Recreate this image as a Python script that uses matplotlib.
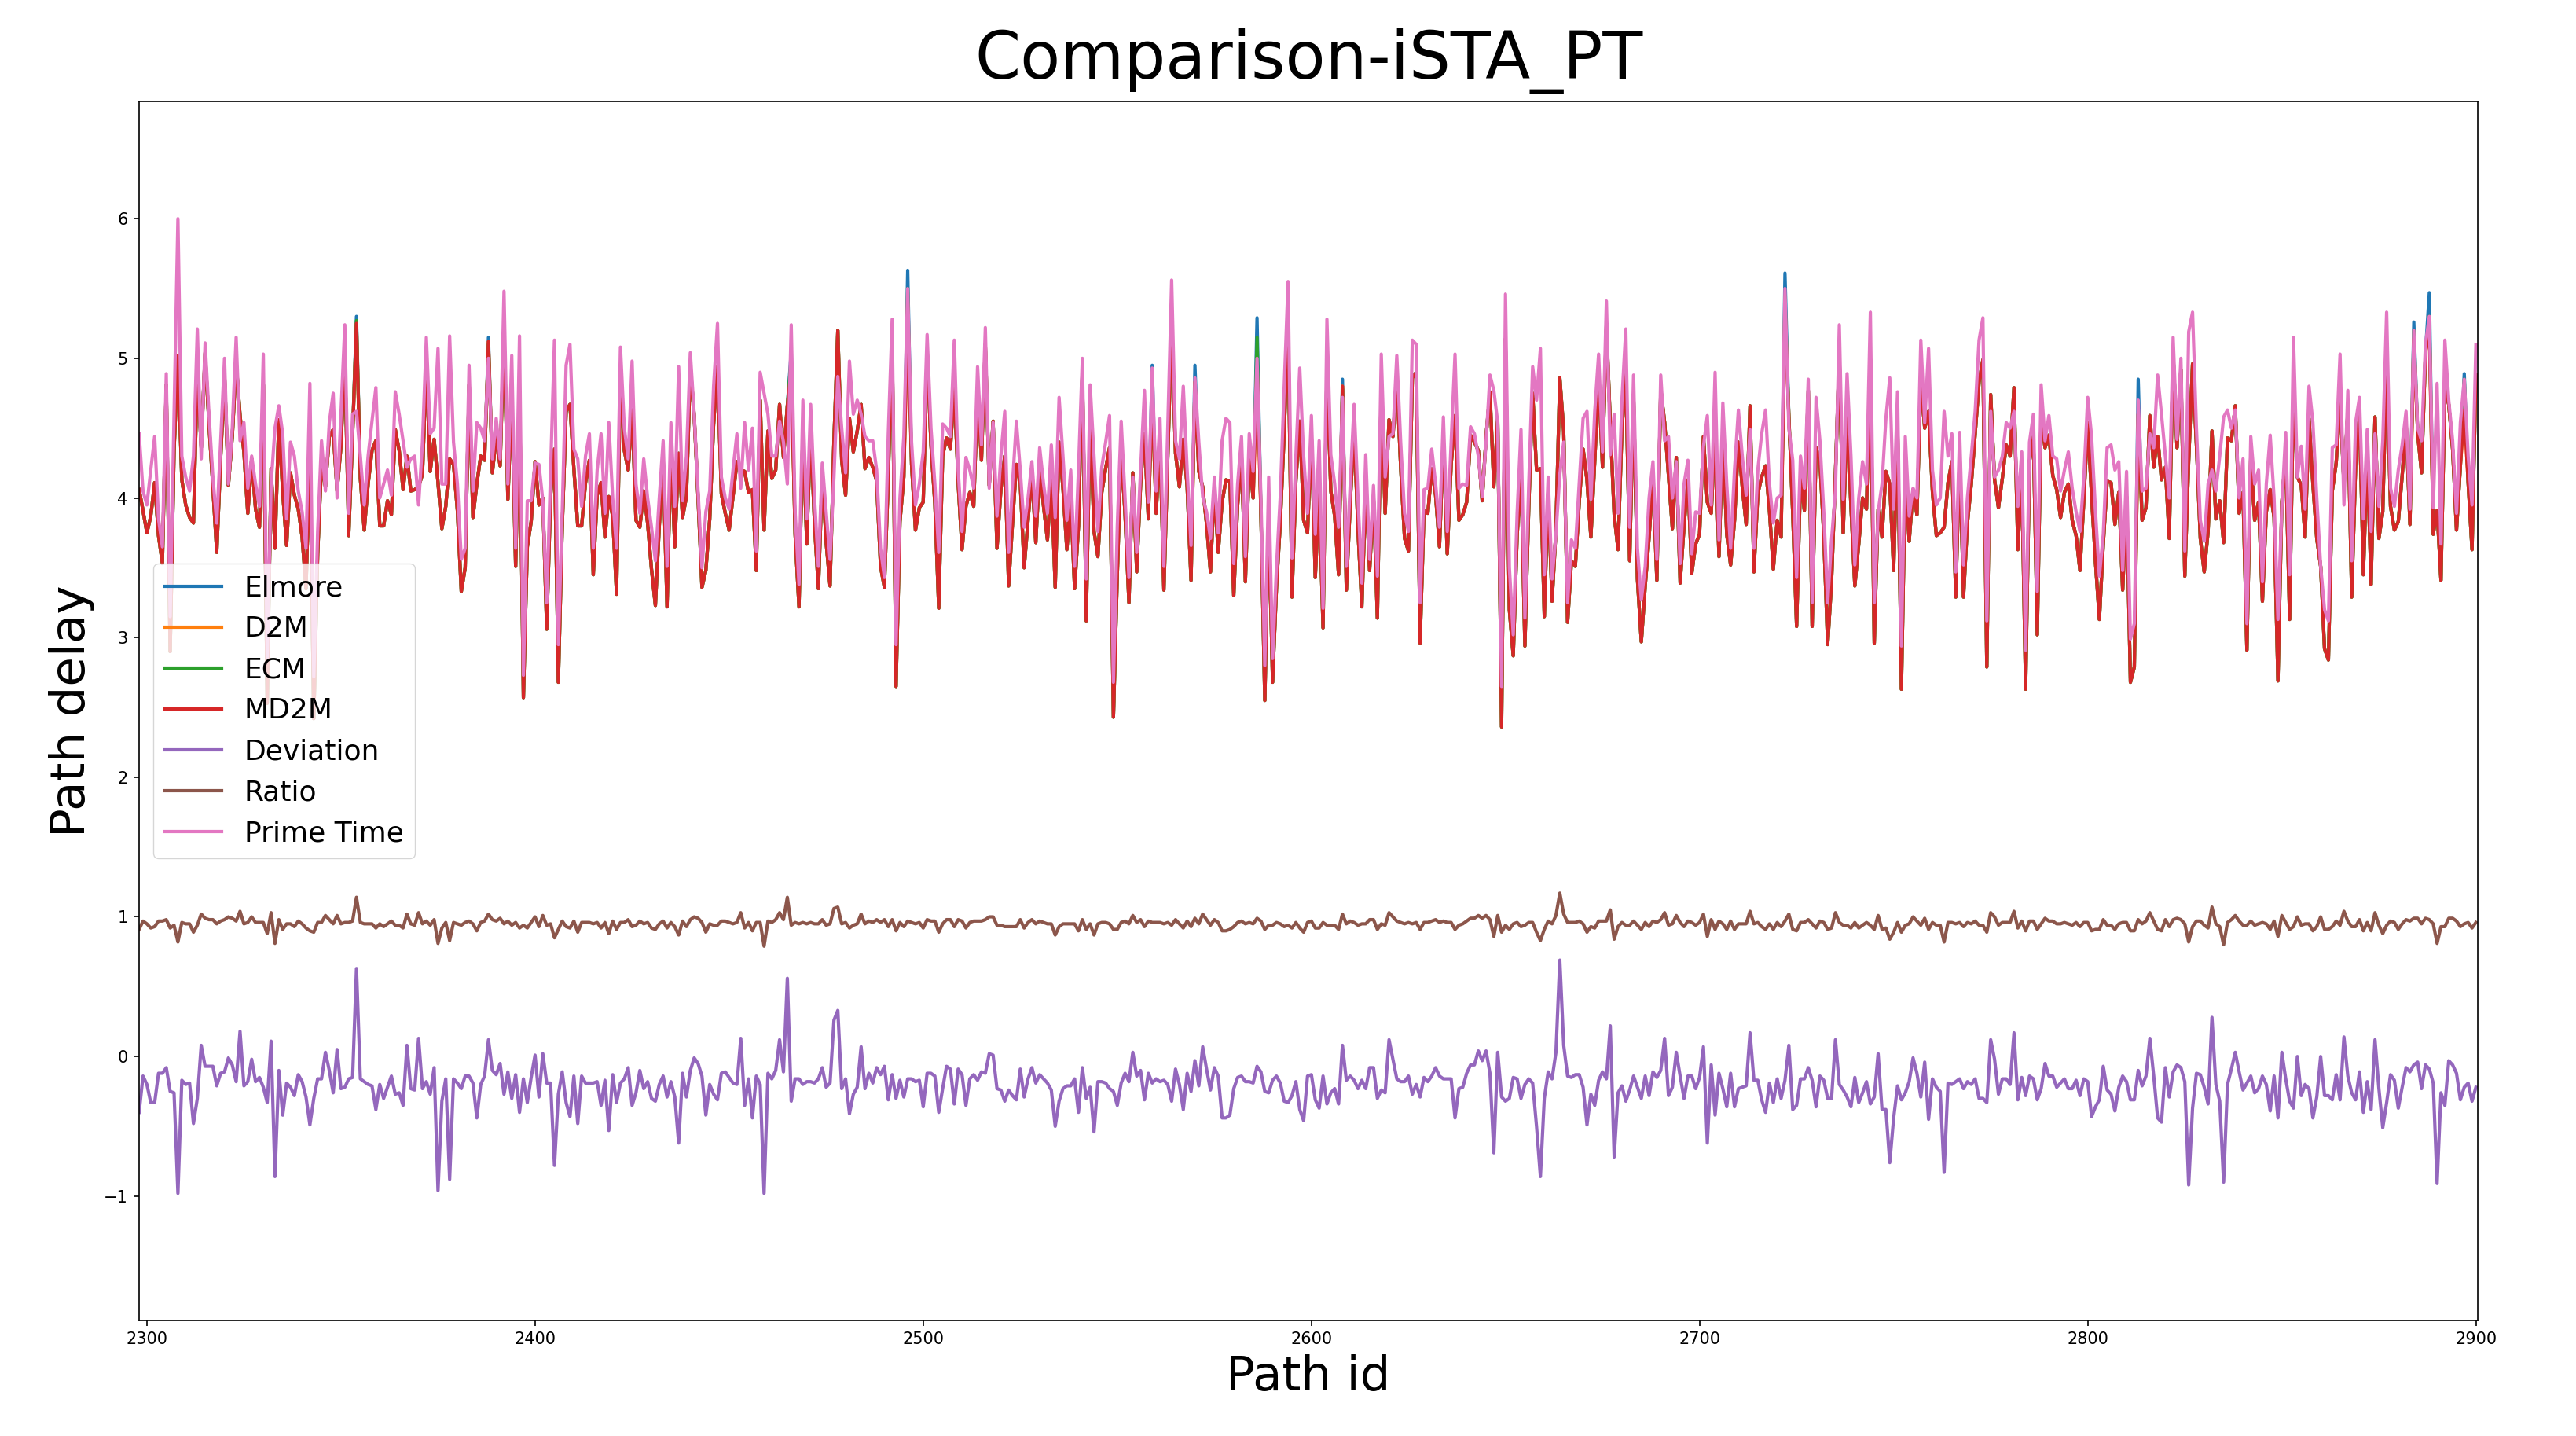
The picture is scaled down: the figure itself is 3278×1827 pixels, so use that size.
import numpy as np
import matplotlib
matplotlib.use("Agg")
import matplotlib.pyplot as plt

FIRST_ID = 2298

prime_time = [
    4.46, 4.05, 3.95, 4.20, 4.44, 3.85, 3.65, 4.89, 3.15, 4.60,
    6.00, 4.30, 4.15, 4.05, 4.30, 5.21, 4.28, 5.11, 4.60, 4.15,
    3.82, 4.40, 5.00, 4.10, 4.50, 5.15, 4.41, 4.54, 4.07, 4.30,
    4.10, 3.94, 5.03, 2.86, 4.10, 4.50, 4.66, 4.46, 3.85, 4.40,
    4.30, 4.05, 3.90, 3.64, 4.82, 2.72, 3.76, 4.41, 4.05, 4.54,
    4.75, 4.00, 4.60, 5.24, 3.89, 4.60, 4.62, 4.30, 3.95, 4.30,
    4.55, 4.79, 4.00, 4.10, 4.20, 4.02, 4.76, 4.60, 4.41, 4.22,
    4.28, 4.30, 3.95, 4.40, 5.15, 4.46, 4.50, 5.07, 4.10, 4.10,
    5.16, 4.40, 4.10, 3.56, 3.64, 4.95, 4.05, 4.54, 4.50, 4.41,
    5.00, 4.28, 4.57, 4.28, 5.48, 4.10, 5.02, 3.64, 5.16, 2.73,
    3.98, 3.98, 4.25, 4.24, 3.98, 3.25, 4.20, 5.13, 2.95, 3.90,
    4.95, 5.10, 4.35, 4.28, 3.94, 4.30, 4.46, 3.64, 4.20, 4.46,
    3.89, 4.54, 4.00, 3.64, 5.08, 4.50, 4.28, 4.98, 4.10, 3.89,
    4.28, 4.00, 3.79, 3.55, 4.00, 4.41, 3.51, 4.54, 3.94, 4.94,
    3.98, 4.30, 5.04, 4.60, 4.05, 3.50, 3.90, 4.05, 4.80, 5.25,
    4.15, 4.00, 3.92, 4.20, 4.46, 4.07, 4.54, 4.20, 4.50, 3.62,
    4.90, 4.75, 4.60, 4.30, 4.30, 4.55, 4.40, 4.10, 5.24, 3.90,
    3.38, 4.70, 3.85, 4.67, 4.00, 3.51, 4.25, 3.90, 3.56, 4.15,
    4.87, 4.50, 4.18, 4.98, 4.60, 4.70, 4.60, 4.44, 4.41, 4.41,
    4.20, 3.64, 3.43, 4.46, 5.28, 2.95, 4.00, 4.44, 5.50, 4.40,
    3.95, 4.10, 4.33, 5.17, 4.50, 4.10, 3.61, 4.53, 4.50, 4.44,
    5.13, 4.20, 3.76, 4.29, 4.20, 4.07, 4.94, 4.38, 5.22, 4.07,
    4.54, 3.87, 4.30, 4.62, 3.61, 4.10, 4.55, 4.20, 3.79, 4.00,
    4.26, 3.87, 4.36, 4.10, 3.89, 4.38, 3.86, 4.72, 4.30, 3.84,
    4.20, 3.51, 4.20, 5.00, 3.42, 4.81, 4.30, 3.76, 4.22, 4.40,
    4.59, 2.68, 3.80, 4.55, 4.00, 3.43, 4.15, 3.61, 4.20, 4.77,
    3.97, 4.93, 4.05, 4.57, 3.51, 4.50, 5.56, 4.41, 4.28, 4.80,
    4.20, 3.66, 4.86, 4.40, 4.01, 3.90, 3.71, 4.15, 3.75, 4.41,
    4.57, 4.54, 3.53, 4.10, 4.44, 3.58, 4.46, 4.19, 5.00, 4.00,
    2.80, 4.15, 2.85, 3.50, 4.02, 4.80, 5.55, 3.57, 4.30, 4.93,
    4.30, 3.89, 4.59, 3.74, 4.41, 3.21, 5.28, 4.31, 4.10, 3.79,
    4.72, 3.51, 4.10, 4.67, 4.00, 3.39, 4.31, 3.56, 4.09, 3.44,
    5.03, 4.15, 4.44, 4.46, 5.02, 4.40, 3.89, 3.76, 5.13, 5.10,
    3.25, 4.06, 4.07, 4.35, 4.10, 3.79, 4.58, 3.76, 4.40, 5.03,
    4.07, 4.10, 4.09, 4.51, 4.46, 4.30, 4.01, 4.40, 4.88, 4.77,
    4.54, 2.65, 5.46, 3.50, 3.02, 3.89, 4.49, 3.14, 4.10, 4.94,
    4.70, 5.07, 3.45, 4.15, 3.42, 3.74, 4.17, 4.40, 3.25, 3.70,
    3.64, 4.10, 4.57, 4.62, 3.99, 4.62, 5.03, 4.33, 5.41, 4.31,
    4.60, 3.89, 4.70, 5.21, 3.79, 4.88, 3.64, 3.27, 3.51, 4.00,
    4.26, 3.56, 4.88, 4.41, 4.44, 4.00, 4.26, 3.53, 4.10, 4.27,
    3.60, 3.90, 3.89, 4.37, 4.59, 3.95, 4.90, 3.70, 4.68, 4.10,
    3.64, 4.20, 4.63, 4.30, 4.02, 4.49, 3.64, 4.20, 4.46, 4.63,
    4.10, 3.82, 4.00, 4.02, 5.50, 4.50, 4.27, 3.43, 4.30, 4.07,
    4.85, 3.25, 4.72, 4.41, 3.90, 3.25, 3.70, 4.05, 5.24, 3.99,
    4.89, 4.30, 3.52, 4.00, 4.26, 4.10, 5.33, 3.25, 3.90, 4.10,
    4.57, 4.86, 3.92, 4.76, 2.94, 4.44, 3.87, 4.07, 4.00, 5.13,
    4.54, 5.07, 4.20, 3.95, 4.00, 4.62, 4.30, 4.46, 3.47, 4.47,
    3.52, 4.00, 4.30, 4.62, 5.13, 5.29, 3.12, 4.62, 4.15, 4.20,
    4.30, 4.54, 4.50, 4.62, 3.94, 4.33, 2.91, 4.40, 4.60, 3.33,
    4.81, 4.41, 4.59, 4.30, 4.28, 4.05, 4.20, 4.33, 4.07, 3.90,
    3.76, 4.15, 4.72, 4.44, 3.90, 3.44, 3.74, 4.36, 4.38, 4.20,
    4.26, 3.48, 4.19, 2.99, 3.10, 4.70, 4.05, 4.07, 4.46, 4.36,
    4.88, 4.60, 4.30, 4.00, 5.15, 4.42, 5.00, 3.62, 5.19, 5.33,
    4.50, 3.84, 3.69, 4.10, 4.20, 4.05, 4.30, 4.58, 4.63, 4.50,
    4.63, 4.00, 4.28, 3.10, 4.44, 4.10, 4.20, 3.40, 4.10, 4.45,
    4.00, 3.13, 3.94, 4.47, 3.45, 5.15, 4.15, 4.37, 3.92, 4.80,
    4.54, 4.00, 3.51, 3.20, 3.12, 4.36, 4.38, 5.03, 3.95, 4.77,
    3.55, 4.54, 4.72, 3.85, 4.49, 3.76, 4.46, 3.94, 4.41, 5.33,
    4.07, 3.94, 4.20, 4.38, 4.62, 3.92, 5.20, 4.50, 4.41, 5.10,
    5.30, 3.93, 4.82, 3.67, 5.13, 4.70, 4.41, 3.89, 4.54, 4.85,
    4.30, 3.95, 5.10,
]

md2m = [
    4.06, 3.91, 3.75, 3.87, 4.11, 3.73, 3.53, 4.81, 2.90, 4.34,
    5.02, 4.13, 3.95, 3.86, 3.82, 4.91, 4.36, 5.04, 4.53, 4.08,
    3.61, 4.28, 4.89, 4.09, 4.44, 4.97, 4.59, 4.33, 3.89, 4.28,
    3.92, 3.79, 4.81, 2.53, 4.21, 3.64, 4.56, 4.04, 3.66, 4.18,
    4.02, 3.92, 3.72, 3.35, 4.33, 2.42, 3.60, 4.25, 4.08, 4.44,
    4.49, 4.05, 4.37, 5.02, 3.73, 4.45, 5.25, 4.14, 3.77, 4.10,
    4.34, 4.41, 3.80, 3.80, 3.98, 3.88, 4.49, 4.34, 4.06, 4.30,
    4.05, 4.06, 4.08, 4.17, 4.97, 4.19, 4.42, 4.11, 3.78, 3.94,
    4.28, 4.24, 3.91, 3.33, 3.50, 4.81, 3.86, 4.10, 4.30, 4.27,
    5.12, 4.18, 4.44, 4.23, 5.21, 3.99, 4.72, 3.51, 4.76, 2.57,
    3.65, 3.83, 4.26, 3.95, 4.00, 3.06, 4.01, 4.35, 2.68, 3.79,
    4.62, 4.67, 4.21, 3.80, 3.80, 4.11, 4.27, 3.45, 4.02, 4.11,
    3.72, 4.01, 3.87, 3.31, 4.89, 4.34, 4.20, 4.63, 3.84, 3.79,
    4.05, 3.82, 3.49, 3.23, 3.80, 4.27, 3.22, 4.36, 3.65, 4.32,
    3.86, 4.01, 4.94, 4.59, 4.00, 3.36, 3.48, 3.85, 4.53, 4.94,
    4.03, 3.89, 3.77, 4.01, 4.26, 4.20, 4.19, 4.04, 4.06, 3.48,
    4.70, 3.77, 4.48, 4.14, 4.20, 4.67, 4.29, 4.66, 4.92, 3.74,
    3.22, 4.50, 3.67, 4.49, 3.81, 3.35, 4.17, 3.68, 3.37, 4.41,
    5.20, 4.27, 4.02, 4.57, 4.33, 4.48, 4.67, 4.21, 4.29, 4.22,
    4.12, 3.51, 3.36, 4.15, 5.15, 2.65, 3.83, 4.15, 5.34, 4.24,
    3.77, 3.93, 3.97, 5.05, 4.38, 3.96, 3.21, 4.30, 4.43, 4.35,
    4.79, 4.11, 3.63, 3.94, 4.04, 3.94, 4.77, 4.27, 5.10, 4.09,
    4.55, 3.64, 4.06, 4.30, 3.37, 3.82, 4.24, 4.11, 3.50, 3.84,
    4.18, 3.68, 4.23, 3.94, 3.70, 4.14, 3.36, 4.40, 4.07, 3.63,
    3.99, 3.35, 3.80, 4.92, 3.12, 4.59, 3.76, 3.58, 4.04, 4.21,
    4.36, 2.43, 3.45, 4.36, 3.88, 3.25, 4.18, 3.47, 4.10, 4.46,
    3.85, 4.74, 3.89, 4.39, 3.34, 4.30, 5.24, 4.32, 4.08, 4.42,
    4.08, 3.41, 4.83, 4.19, 4.08, 3.81, 3.47, 4.07, 3.61, 3.97,
    4.13, 4.12, 3.30, 3.95, 4.30, 3.40, 4.28, 4.00, 4.93, 3.89,
    2.55, 3.89, 2.68, 3.36, 3.83, 4.48, 5.22, 3.29, 4.12, 4.55,
    3.84, 3.75, 4.46, 3.43, 4.04, 3.07, 4.94, 4.05, 3.87, 3.45,
    4.80, 3.34, 3.96, 4.50, 3.77, 3.22, 4.08, 3.48, 4.01, 3.14,
    4.79, 3.89, 4.56, 4.44, 4.86, 4.22, 3.71, 3.62, 4.86, 4.90,
    2.96, 3.91, 3.89, 4.21, 4.02, 3.65, 4.42, 3.60, 4.24, 4.59,
    3.84, 3.88, 3.97, 4.45, 4.40, 4.34, 3.98, 4.44, 4.76, 4.08,
    4.57, 2.36, 5.14, 3.20, 2.87, 3.73, 4.19, 2.94, 3.94, 4.75,
    4.20, 4.21, 3.15, 4.04, 3.26, 3.77, 4.86, 4.48, 3.11, 3.55,
    3.51, 3.97, 4.35, 4.13, 3.72, 4.27, 4.86, 4.22, 5.25, 4.53,
    3.88, 3.63, 4.49, 4.89, 3.55, 4.74, 3.42, 2.97, 3.37, 3.72,
    4.15, 3.41, 4.78, 4.54, 4.16, 3.78, 4.29, 3.39, 3.80, 4.13,
    3.46, 3.67, 3.74, 4.44, 3.97, 3.89, 4.48, 3.58, 4.45, 3.74,
    3.52, 3.84, 4.40, 4.08, 3.81, 4.66, 3.47, 4.03, 4.15, 4.23,
    3.91, 3.49, 3.84, 3.72, 5.33, 4.58, 3.89, 3.08, 4.14, 3.91,
    4.77, 3.08, 4.36, 4.27, 3.73, 2.95, 3.40, 4.17, 5.04, 3.75,
    4.60, 3.94, 3.37, 3.67, 4.00, 3.92, 4.99, 2.96, 3.92, 3.72,
    4.19, 4.10, 3.48, 4.55, 2.63, 4.18, 3.69, 4.06, 3.88, 4.84,
    4.50, 4.62, 4.04, 3.73, 3.75, 3.79, 4.11, 4.26, 3.29, 4.31,
    3.29, 3.82, 4.10, 4.46, 4.83, 4.99, 2.79, 4.74, 4.13, 3.93,
    4.14, 4.38, 4.30, 4.79, 3.63, 4.18, 2.63, 4.26, 4.44, 3.02,
    4.58, 4.36, 4.45, 4.16, 4.06, 3.86, 4.04, 4.10, 3.84, 3.73,
    3.48, 3.99, 4.54, 4.01, 3.54, 3.13, 3.67, 4.12, 4.11, 3.81,
    4.04, 3.34, 4.01, 2.68, 2.79, 4.60, 3.84, 3.93, 4.59, 4.22,
    4.44, 4.13, 4.22, 3.71, 5.04, 4.36, 4.92, 3.44, 4.27, 4.96,
    4.38, 3.71, 3.47, 3.76, 4.48, 3.85, 3.98, 3.68, 4.43, 4.41,
    4.66, 3.89, 4.04, 2.91, 4.30, 3.84, 3.97, 3.26, 3.90, 4.06,
    3.86, 2.69, 3.97, 4.31, 3.13, 4.78, 4.15, 4.09, 3.72, 4.57,
    4.10, 3.71, 3.51, 2.92, 2.84, 4.05, 4.25, 4.72, 4.09, 4.63,
    3.29, 4.23, 4.61, 3.45, 4.31, 3.38, 4.58, 3.71, 3.90, 5.00,
    3.94, 3.77, 3.83, 4.16, 4.54, 3.81, 5.14, 4.46, 4.18, 5.04,
    5.21, 3.74, 3.91, 3.41, 4.78, 4.67, 4.35, 3.77, 4.23, 4.63,
    4.11, 3.63, 4.88,
]

deviation = [
    -0.40, -0.14, -0.20, -0.33, -0.33, -0.12, -0.12, -0.08, -0.25, -0.26,
    -0.98, -0.17, -0.20, -0.19, -0.48, -0.30, 0.08, -0.07, -0.07, -0.07,
    -0.21, -0.12, -0.11, -0.01, -0.06, -0.18, 0.18, -0.21, -0.18, -0.02,
    -0.18, -0.15, -0.22, -0.33, 0.11, -0.86, -0.10, -0.42, -0.19, -0.22,
    -0.28, -0.13, -0.18, -0.29, -0.49, -0.30, -0.16, -0.16, 0.03, -0.10,
    -0.26, 0.05, -0.23, -0.22, -0.16, -0.15, 0.63, -0.16, -0.18, -0.20,
    -0.21, -0.38, -0.20, -0.30, -0.22, -0.14, -0.27, -0.26, -0.35, 0.08,
    -0.23, -0.24, 0.13, -0.23, -0.18, -0.27, -0.08, -0.96, -0.32, -0.16,
    -0.88, -0.16, -0.19, -0.23, -0.14, -0.14, -0.19, -0.44, -0.20, -0.14,
    0.12, -0.10, -0.13, -0.05, -0.27, -0.11, -0.30, -0.13, -0.40, -0.16,
    -0.33, -0.15, 0.01, -0.29, 0.02, -0.19, -0.19, -0.78, -0.27, -0.11,
    -0.33, -0.43, -0.14, -0.48, -0.14, -0.19, -0.19, -0.19, -0.18, -0.35,
    -0.17, -0.53, -0.13, -0.33, -0.19, -0.16, -0.08, -0.35, -0.26, -0.10,
    -0.23, -0.18, -0.30, -0.32, -0.20, -0.14, -0.29, -0.18, -0.29, -0.62,
    -0.12, -0.29, -0.10, -0.01, -0.05, -0.14, -0.42, -0.20, -0.27, -0.31,
    -0.12, -0.11, -0.15, -0.19, -0.20, 0.13, -0.35, -0.16, -0.44, -0.14,
    -0.20, -0.98, -0.12, -0.16, -0.10, 0.12, -0.11, 0.56, -0.32, -0.16,
    -0.16, -0.20, -0.18, -0.18, -0.19, -0.16, -0.08, -0.22, -0.19, 0.26,
    0.33, -0.23, -0.16, -0.41, -0.27, -0.22, 0.07, -0.23, -0.12, -0.19,
    -0.08, -0.13, -0.07, -0.31, -0.13, -0.30, -0.17, -0.29, -0.16, -0.16,
    -0.18, -0.17, -0.36, -0.12, -0.12, -0.14, -0.40, -0.23, -0.07, -0.09,
    -0.34, -0.09, -0.13, -0.35, -0.16, -0.13, -0.17, -0.11, -0.12, 0.02,
    0.01, -0.23, -0.24, -0.32, -0.24, -0.28, -0.31, -0.09, -0.29, -0.16,
    -0.08, -0.19, -0.13, -0.16, -0.19, -0.24, -0.50, -0.32, -0.23, -0.21,
    -0.21, -0.16, -0.40, -0.08, -0.30, -0.22, -0.54, -0.18, -0.18, -0.19,
    -0.23, -0.25, -0.35, -0.19, -0.12, -0.18, 0.03, -0.14, -0.10, -0.31,
    -0.12, -0.19, -0.16, -0.18, -0.17, -0.20, -0.32, -0.09, -0.20, -0.38,
    -0.12, -0.25, -0.03, -0.21, 0.07, -0.09, -0.24, -0.08, -0.14, -0.44,
    -0.44, -0.42, -0.23, -0.15, -0.14, -0.18, -0.18, -0.19, -0.07, -0.11,
    -0.25, -0.26, -0.17, -0.14, -0.19, -0.32, -0.33, -0.28, -0.18, -0.38,
    -0.46, -0.14, -0.13, -0.31, -0.37, -0.14, -0.34, -0.26, -0.23, -0.34,
    0.08, -0.17, -0.14, -0.17, -0.23, -0.17, -0.23, -0.08, -0.08, -0.30,
    -0.24, -0.26, 0.12, -0.02, -0.16, -0.18, -0.18, -0.14, -0.27, -0.20,
    -0.29, -0.15, -0.18, -0.14, -0.08, -0.14, -0.16, -0.16, -0.16, -0.44,
    -0.23, -0.22, -0.12, -0.06, -0.06, 0.04, -0.03, 0.04, -0.12, -0.69,
    0.03, -0.29, -0.32, -0.30, -0.15, -0.16, -0.30, -0.20, -0.16, -0.19,
    -0.50, -0.86, -0.30, -0.11, -0.16, 0.03, 0.69, 0.08, -0.14, -0.15,
    -0.13, -0.13, -0.22, -0.49, -0.27, -0.35, -0.17, -0.11, -0.16, 0.22,
    -0.72, -0.26, -0.21, -0.32, -0.24, -0.14, -0.22, -0.30, -0.14, -0.28,
    -0.11, -0.15, -0.10, 0.13, -0.28, -0.22, 0.03, -0.14, -0.30, -0.14,
    -0.14, -0.23, -0.15, 0.07, -0.62, -0.06, -0.42, -0.12, -0.23, -0.36,
    -0.12, -0.36, -0.23, -0.22, -0.21, 0.17, -0.17, -0.17, -0.31, -0.40,
    -0.19, -0.33, -0.16, -0.30, -0.17, 0.08, -0.38, -0.35, -0.16, -0.16,
    -0.08, -0.17, -0.36, -0.14, -0.17, -0.30, -0.30, 0.12, -0.20, -0.24,
    -0.29, -0.36, -0.15, -0.33, -0.26, -0.18, -0.34, -0.29, 0.02, -0.38,
    -0.38, -0.76, -0.44, -0.21, -0.31, -0.26, -0.18, -0.01, -0.12, -0.29,
    -0.04, -0.45, -0.16, -0.22, -0.25, -0.83, -0.19, -0.20, -0.18, -0.16,
    -0.23, -0.18, -0.20, -0.16, -0.30, -0.30, -0.33, 0.12, -0.02, -0.27,
    -0.16, -0.16, -0.20, 0.17, -0.31, -0.15, -0.28, -0.14, -0.16, -0.31,
    -0.23, -0.05, -0.14, -0.14, -0.22, -0.19, -0.16, -0.23, -0.23, -0.17,
    -0.28, -0.16, -0.18, -0.43, -0.36, -0.31, -0.07, -0.24, -0.27, -0.39,
    -0.22, -0.14, -0.18, -0.31, -0.31, -0.10, -0.21, -0.14, 0.13, -0.14,
    -0.44, -0.47, -0.08, -0.29, -0.11, -0.06, -0.08, -0.18, -0.92, -0.37,
    -0.12, -0.13, -0.22, -0.34, 0.28, -0.20, -0.32, -0.90, -0.20, -0.09,
    0.03, -0.11, -0.24, -0.19, -0.14, -0.26, -0.23, -0.14, -0.20, -0.39,
    -0.14, -0.44, 0.03, -0.16, -0.32, -0.37, 0.00, -0.28, -0.20, -0.23,
    -0.44, -0.29, 0.00, -0.28, -0.28, -0.31, -0.13, -0.31, 0.14, -0.14,
    -0.26, -0.31, -0.11, -0.40, -0.18, -0.38, 0.12, -0.23, -0.51, -0.33,
    -0.13, -0.17, -0.37, -0.22, -0.08, -0.11, -0.06, -0.04, -0.23, -0.06,
    -0.09, -0.19, -0.91, -0.26, -0.35, -0.03, -0.06, -0.12, -0.31, -0.22,
    -0.19, -0.32, -0.22,
]

ratio = [
    0.91, 0.97, 0.95, 0.92, 0.93, 0.97, 0.97, 0.98, 0.92, 0.94,
    0.82, 0.96, 0.95, 0.95, 0.89, 0.94, 1.02, 0.99, 0.98, 0.98,
    0.95, 0.97, 0.98, 1.00, 0.99, 0.97, 1.04, 0.95, 0.96, 1.00,
    0.96, 0.96, 0.96, 0.88, 1.03, 0.81, 0.98, 0.91, 0.95, 0.95,
    0.93, 0.97, 0.95, 0.92, 0.90, 0.89, 0.96, 0.96, 1.01, 0.98,
    0.95, 1.01, 0.95, 0.96, 0.96, 0.97, 1.14, 0.96, 0.95, 0.95,
    0.95, 0.92, 0.95, 0.93, 0.95, 0.97, 0.94, 0.94, 0.92, 1.02,
    0.95, 0.94, 1.03, 0.95, 0.97, 0.94, 0.98, 0.81, 0.92, 0.96,
    0.83, 0.96, 0.95, 0.94, 0.96, 0.97, 0.95, 0.90, 0.96, 0.97,
    1.02, 0.98, 0.97, 0.99, 0.95, 0.97, 0.94, 0.96, 0.92, 0.94,
    0.92, 0.96, 1.00, 0.93, 1.01, 0.94, 0.95, 0.85, 0.91, 0.97,
    0.93, 0.92, 0.97, 0.89, 0.96, 0.96, 0.96, 0.95, 0.96, 0.92,
    0.96, 0.88, 0.97, 0.91, 0.96, 0.96, 0.98, 0.93, 0.94, 0.97,
    0.95, 0.96, 0.92, 0.91, 0.95, 0.97, 0.92, 0.96, 0.93, 0.87,
    0.97, 0.93, 0.98, 1.00, 0.99, 0.96, 0.89, 0.95, 0.94, 0.94,
    0.97, 0.97, 0.96, 0.95, 0.96, 1.03, 0.92, 0.96, 0.90, 0.96,
    0.96, 0.79, 0.97, 0.96, 0.98, 1.03, 0.98, 1.14, 0.94, 0.96,
    0.95, 0.96, 0.95, 0.96, 0.95, 0.95, 0.98, 0.94, 0.95, 1.06,
    1.07, 0.95, 0.96, 0.92, 0.94, 0.95, 1.02, 0.95, 0.97, 0.96,
    0.98, 0.96, 0.98, 0.93, 0.98, 0.90, 0.96, 0.93, 0.97, 0.96,
    0.95, 0.96, 0.92, 0.98, 0.97, 0.97, 0.89, 0.95, 0.98, 0.98,
    0.93, 0.98, 0.97, 0.92, 0.96, 0.97, 0.97, 0.97, 0.98, 1.00,
    1.00, 0.94, 0.94, 0.93, 0.93, 0.93, 0.93, 0.98, 0.92, 0.96,
    0.98, 0.95, 0.97, 0.96, 0.95, 0.95, 0.87, 0.93, 0.95, 0.95,
    0.95, 0.95, 0.90, 0.98, 0.91, 0.95, 0.87, 0.95, 0.96, 0.96,
    0.95, 0.91, 0.91, 0.96, 0.97, 0.95, 1.01, 0.96, 0.98, 0.93,
    0.97, 0.96, 0.96, 0.96, 0.95, 0.96, 0.94, 0.98, 0.95, 0.92,
    0.97, 0.93, 0.99, 0.95, 1.02, 0.98, 0.94, 0.98, 0.96, 0.90,
    0.90, 0.91, 0.93, 0.96, 0.97, 0.95, 0.96, 0.95, 0.99, 0.97,
    0.91, 0.94, 0.94, 0.96, 0.95, 0.93, 0.94, 0.92, 0.96, 0.92,
    0.89, 0.96, 0.97, 0.92, 0.92, 0.96, 0.94, 0.94, 0.94, 0.91,
    1.02, 0.95, 0.97, 0.96, 0.94, 0.95, 0.95, 0.98, 0.98, 0.91,
    0.95, 0.94, 1.03, 1.00, 0.97, 0.96, 0.95, 0.96, 0.95, 0.96,
    0.91, 0.96, 0.96, 0.97, 0.98, 0.96, 0.97, 0.96, 0.96, 0.91,
    0.94, 0.95, 0.97, 0.99, 0.99, 1.01, 0.99, 1.01, 0.98, 0.86,
    1.01, 0.89, 0.94, 0.91, 0.95, 0.96, 0.93, 0.94, 0.96, 0.96,
    0.89, 0.83, 0.91, 0.97, 0.95, 1.01, 1.17, 1.02, 0.96, 0.96,
    0.96, 0.97, 0.95, 0.89, 0.93, 0.92, 0.97, 0.97, 0.97, 1.05,
    0.84, 0.93, 0.96, 0.94, 0.94, 0.97, 0.94, 0.91, 0.96, 0.93,
    0.97, 0.96, 0.98, 1.03, 0.94, 0.95, 1.01, 0.96, 0.93, 0.97,
    0.96, 0.94, 0.96, 1.02, 0.86, 0.98, 0.91, 0.97, 0.95, 0.91,
    0.97, 0.91, 0.95, 0.95, 0.95, 1.04, 0.95, 0.96, 0.93, 0.91,
    0.95, 0.91, 0.96, 0.93, 0.97, 1.02, 0.91, 0.90, 0.96, 0.96,
    0.98, 0.95, 0.92, 0.97, 0.96, 0.91, 0.92, 1.03, 0.96, 0.94,
    0.94, 0.92, 0.96, 0.92, 0.94, 0.96, 0.94, 0.91, 1.01, 0.91,
    0.92, 0.84, 0.89, 0.96, 0.89, 0.94, 0.95, 1.00, 0.97, 0.94,
    0.99, 0.91, 0.96, 0.94, 0.94, 0.82, 0.96, 0.96, 0.95, 0.96,
    0.93, 0.96, 0.95, 0.97, 0.94, 0.94, 0.89, 1.03, 1.00, 0.94,
    0.96, 0.96, 0.96, 1.04, 0.92, 0.97, 0.90, 0.97, 0.97, 0.91,
    0.95, 0.99, 0.97, 0.97, 0.95, 0.95, 0.96, 0.95, 0.94, 0.96,
    0.93, 0.96, 0.96, 0.90, 0.91, 0.91, 0.98, 0.94, 0.94, 0.91,
    0.95, 0.96, 0.96, 0.90, 0.90, 0.98, 0.95, 0.97, 1.03, 0.97,
    0.91, 0.90, 0.98, 0.93, 0.98, 0.99, 0.98, 0.95, 0.82, 0.93,
    0.97, 0.97, 0.94, 0.92, 1.07, 0.95, 0.93, 0.80, 0.96, 0.98,
    1.01, 0.97, 0.94, 0.94, 0.97, 0.94, 0.95, 0.96, 0.95, 0.91,
    0.97, 0.86, 1.01, 0.96, 0.91, 0.93, 1.00, 0.94, 0.95, 0.95,
    0.90, 0.93, 1.00, 0.91, 0.91, 0.93, 0.97, 0.94, 1.04, 0.97,
    0.93, 0.93, 0.98, 0.90, 0.96, 0.90, 1.03, 0.94, 0.88, 0.94,
    0.97, 0.96, 0.91, 0.95, 0.98, 0.97, 0.99, 0.99, 0.95, 0.99,
    0.98, 0.95, 0.81, 0.93, 0.93, 0.99, 0.99, 0.97, 0.93, 0.95,
    0.96, 0.92, 0.96,
]

# Elmore / D2M / ECM coincide with MD2M except where they poke out above it
elmore_peaks = {2354: 5.30, 2388: 5.15, 2466: 5.05, 2496: 5.63, 2559: 4.95,
                2570: 4.95, 2586: 5.29, 2608: 4.85, 2722: 5.61, 2813: 4.85,
                2884: 5.26, 2888: 5.47, 2897: 4.89}
ecm_peaks = {2354: 5.27, 2388: 5.10, 2466: 5.00, 2496: 5.50, 2586: 5.15,
             2608: 4.78, 2722: 5.45, 2884: 5.20, 2888: 5.30, 2897: 4.85}
d2m_peaks = {2496: 5.40, 2722: 5.38, 2888: 5.25}


def with_peaks(base, peaks):
    out = list(base)
    for pid, val in peaks.items():
        out[pid - FIRST_ID] = val
    return out


elmore = with_peaks(md2m, elmore_peaks)
d2m = with_peaks(md2m, d2m_peaks)
ecm = with_peaks(md2m, ecm_peaks)


def ids(series):
    return np.arange(FIRST_ID, FIRST_ID + len(series))


fig = plt.figure(figsize=(32.78, 18.27), dpi=100)
ax = fig.add_axes([0.0540, 0.0805, 0.9079, 0.8489])

lw = 3.0
series = [
    ("Elmore", elmore, "#1f77b4"),
    ("D2M", d2m, "#ff7f0e"),
    ("ECM", ecm, "#2ca02c"),
    ("MD2M", md2m, "#d62728"),
    ("Deviation", deviation, "#9467bd"),
    ("Ratio", ratio, "#8c564b"),
    ("Prime Time", prime_time, "#e377c2"),
]
for name, vals, col in series:
    ax.plot(ids(vals), vals, color=col, lw=lw, label=name)

ax.set_xlim(2298, 2900.5)
ax.set_ylim(-1.89, 6.84)
ax.set_xticks([2300, 2400, 2500, 2600, 2700, 2800, 2900])
ax.set_yticks([-1, 0, 1, 2, 3, 4, 5, 6])
ax.tick_params(labelsize=15, length=5.3, width=1.2, pad=5)
for sp in ax.spines.values():
    sp.set_linewidth(1.2)

ax.set_title("Comparison-iSTA_PT", fontsize=60, pad=21)
ax.set_xlabel("Path id", fontsize=44, labelpad=6)
ax.set_ylabel("Path delay", fontsize=44, labelpad=8)

ax.legend(loc="center left", fontsize=26)

fig.savefig("out.png", dpi=100)
